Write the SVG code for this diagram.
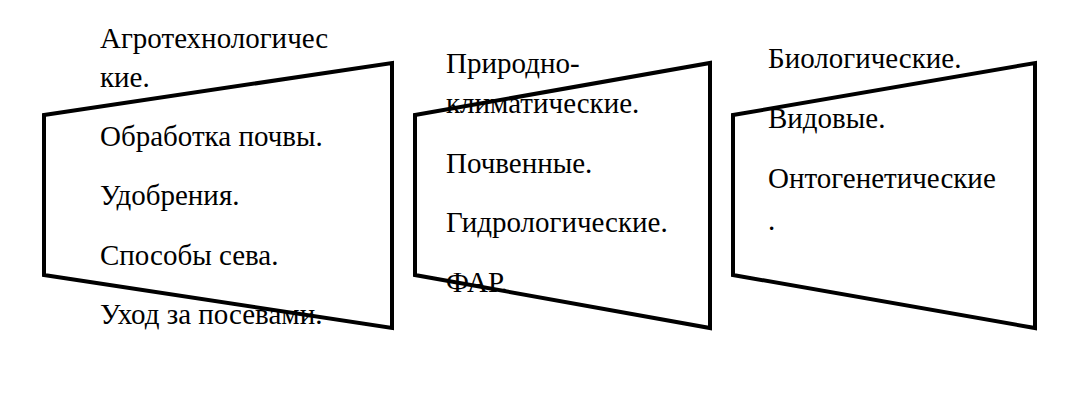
<svg xmlns="http://www.w3.org/2000/svg" width="1078" height="406" viewBox="0 0 1078 406">
<style>
text{font-family:"Liberation Serif","Times New Roman",serif;font-size:29px;fill:#000}
.box{fill:none;stroke:#000;stroke-width:4;stroke-linejoin:miter}
</style>
<rect width="1078" height="406" fill="#fff"/>
<g id="node-agro">
<text x="100" y="48">Агротехнологичес</text>
<text x="100" y="87">кие.</text>
<text x="100" y="146">Обработка почвы.</text>
<text x="100" y="205">Удобрения.</text>
<text x="100" y="265">Способы сева.</text>
<text x="100" y="324">Уход за посевами.</text>
<polygon class="box" points="44,115 392,63 392,328 44,275"/>
</g>
<g id="node-prirod">
<text x="446" y="73">Природно-</text>
<text x="446" y="113">климатические.</text>
<text x="446" y="173">Почвенные.</text>
<text x="446" y="232">Гидрологические.</text>
<text x="446" y="292">ФАР.</text>
<polygon class="box" points="415,115 710,63 710,328 415,275"/>
</g>
<g id="node-bio">
<text x="768" y="68">Биологические.</text>
<text x="768" y="128">Видовые.</text>
<text x="768" y="188">Онтогенетические</text>
<text x="768" y="230">.</text>
<polygon class="box" points="733,115 1035,63 1035,328 733,275"/>
</g>
<g id="connectors"></g>
</svg>
